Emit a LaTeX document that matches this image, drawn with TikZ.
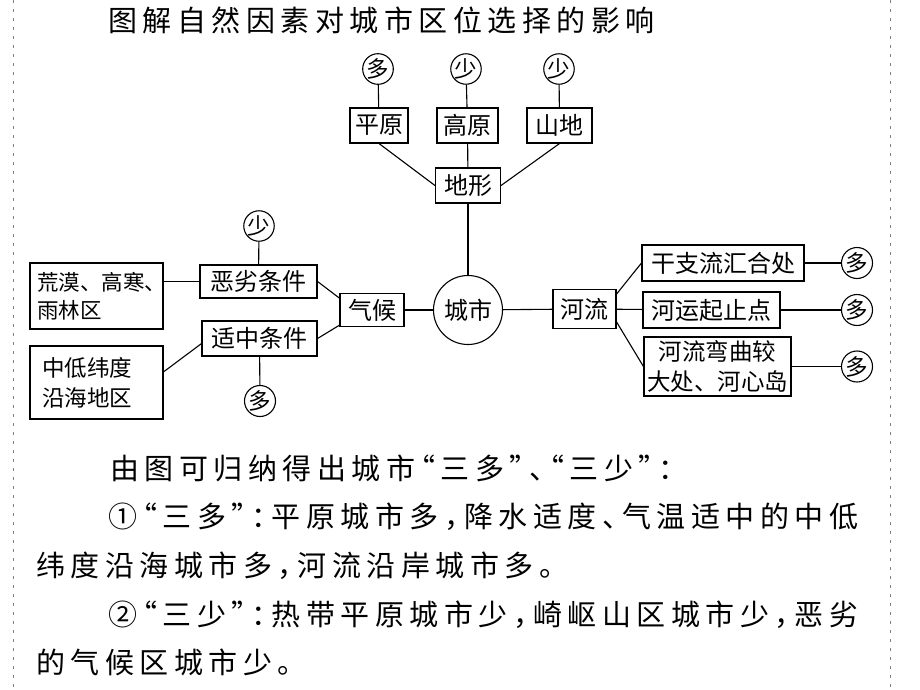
\documentclass[tikz,border=0pt]{standalone}
\usepackage{fontspec}
\usepackage{tikz}
\newfontfamily\cjkfont{Noto Sans CJK SC}
\newfontfamily\cjkspaced[LetterSpace=19,RawFeature=+halt]{Noto Sans CJK SC}
\newcommand\nodefnt{\cjkfont\fontsize{24}{29}\selectfont}
\newcommand\ringfnt{\cjkfont\fontsize{22.5}{24}\selectfont}
\newcommand\bodyfnt{\cjkspaced\fontsize{29}{32}\selectfont}
\tikzset{
  box/.style={draw, line width=1.1pt, inner sep=0pt, font=\nodefnt},
  ring/.style={draw, circle, line width=1.1pt, inner sep=0pt, minimum size=31pt, font=\ringfnt},
  link/.style={line width=1.1pt},
  textline/.style={anchor=west, inner sep=0pt, font=\bodyfnt},
}
\begin{document}
\begin{tikzpicture}[x=1pt, y=-1pt]
\useasboundingbox (0,0) rectangle (920,690);
\draw[gray, line width=1pt, dash pattern=on 3pt off 6pt] (13,0) -- (13,690);
\draw[gray, line width=1pt, dash pattern=on 3pt off 6pt] (890,0) -- (890,690);
\node[textline] (title) at (108,20) {图解自然因素对城市区位选择的影响};
\node[ring, minimum size=29pt] (duo1) at (378,69) {多};
\node[ring, minimum size=29pt] (shao1) at (466,69) {少};
\node[ring, minimum size=29pt] (shao2) at (559,69) {少};
\node[box, minimum width=58pt, minimum height=35pt] (pingyuan) at (379,125.5) {平原};
\node[box, minimum width=61pt, minimum height=35pt] (gaoyuan) at (467.5,125.5) {高原};
\node[box, minimum width=65pt, minimum height=35pt] (shandi) at (559.5,125.5) {山地};
\node[box, minimum width=65pt, minimum height=35pt] (dixing) at (468,185.5) {地形};
\node[draw, circle, line width=1.1pt, inner sep=0pt, minimum size=69pt, font=\nodefnt] (chengshi) at (468,310) {城市};
\node[box, minimum width=64pt, minimum height=33pt] (qihou) at (372,310) {气候};
\node[box, minimum width=117pt, minimum height=33pt] (elie) at (258.5,281.5) {恶劣条件};
\node[box, minimum width=115pt, minimum height=35pt] (shizhong) at (259.5,338.5) {适中条件};
\node[ring, minimum size=30pt] (shao3) at (259,226) {少};
\node[ring] (duo2) at (260,401) {多};
\node[box, text width=119pt, inner xsep=7pt, minimum height=66pt, align=left,
  font=\cjkfont\fontsize{21.5}{28}\selectfont] (huangmo) at (96.5,296) {荒漠、高寒、\\雨林区};
\node[box, text width=109pt, inner xsep=12pt, minimum height=73pt, align=left,
  font=\cjkfont\fontsize{22.5}{30}\selectfont] (zhongdi) at (96.5,382.5) {中低纬度\\沿海地区};
\node[box, minimum width=63pt, minimum height=39pt] (heliu) at (584.5,309) {河流};
\node[box, minimum width=162pt, minimum height=36pt] (ganzhi) at (723,263) {干支流汇合处};
\node[box, minimum width=137pt, minimum height=36pt] (heyun) at (711.5,310) {河运起止点};
\node[box, text width=147pt, minimum height=59pt, align=center,
  font=\cjkfont\fontsize{23.5}{30}\selectfont] (wanqu) at (717.5,366.5) {河流弯曲较\\大处、河心岛};
\node[ring] (duo3) at (857,263) {多};
\node[ring] (duo4) at (857,310) {多};
\node[ring] (duo5) at (857,366.5) {多};
\draw[link] (duo1) -- (pingyuan);
\draw[link] (shao1) -- (gaoyuan);
\draw[link] (shao2) -- (shandi);
\draw[link] (pingyuan.south) -- (dixing.west);
\draw[link] (gaoyuan) -- (dixing);
\draw[link] (shandi.south) -- (dixing.east);
\draw[link] (dixing) -- (chengshi);
\draw[link] (qihou) -- (chengshi);
\draw[link] (elie.east) -- (qihou.160);
\draw[link] (shizhong.east) -- (qihou.205);
\draw[link] (elie.west) -- (elie.west -| huangmo.east);
\draw[link] (zhongdi.9) -- (shizhong.185);
\draw[link] (shao3) -- (elie);
\draw[link] (shizhong) -- (duo2);
\draw[link] (chengshi) -- (heliu);
\draw[link] (heliu.25) -- (ganzhi.west);
\draw[link] (heliu) -- (heyun);
\draw[link] (heliu.-22) -- (wanqu.west);
\draw[link] (ganzhi) -- (duo3);
\draw[link] (heyun) -- (duo4);
\draw[link] (wanqu) -- (duo5);
\node[textline] (line1) at (110,468) {由图可归纳得出城市“三多”、“三少”：};
\node[textline] (line2) at (108,517) {①“三多”：平原城市多，降水适度、气温适中的中低};
\node[textline] (line3) at (36,566) {纬度沿海城市多，河流沿岸城市多。};
\node[textline] (line4) at (108,615) {②“三少”：热带平原城市少，崎岖山区城市少，恶劣};
\node[textline] (line5) at (36,662) {的气候区城市少。};
\end{tikzpicture}
\end{document}
